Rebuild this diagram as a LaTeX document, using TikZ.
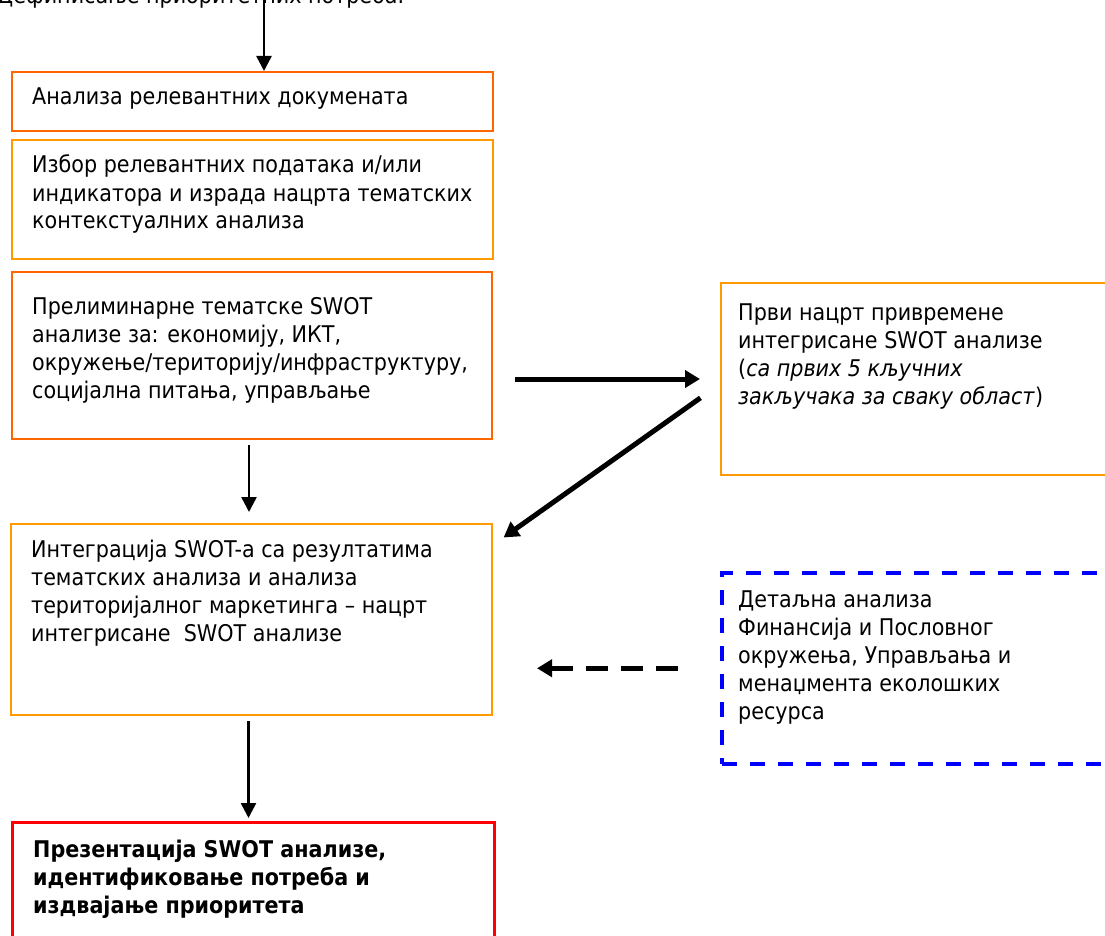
\documentclass[tikz,border=0pt]{standalone}
\usepackage{fontspec}
\setmainfont{DejaVu Sans Condensed}
\usetikzlibrary{arrows.meta}
\definecolor{orA}{RGB}{255,102,0}
\definecolor{orB}{RGB}{255,153,0}
\definecolor{redbox}{RGB}{255,0,0}
\definecolor{bluebox}{RGB}{0,0,255}
\begin{document}
\begin{tikzpicture}[x=1pt,y=-1pt,
		>={Triangle[length=15pt,width=15pt]},
		box/.style={draw,rectangle,inner sep=0pt,anchor=north west,line width=2pt},
		txt/.style={font=\fontsize{23}{28}\selectfont,align=left,inner sep=0pt,anchor=base west},
		flow/.style={line width=2.5pt,->},
		heavy/.style={line width=5pt,-{Triangle[length=15pt,width=17pt]}}]
	\useasboundingbox (0,0) rectangle (1105,936);
	\clip (0,0) rectangle (1105,936);
	% boxes
	\node[box,draw=orA,minimum width=481,minimum height=59] (docs) at (11,71) {};
	\node[box,draw=orB,minimum width=481,minimum height=119] (select) at (11,139) {};
	\node[box,draw=orA,minimum width=480,minimum height=167] (prelim) at (11,271) {};
	\node[box,draw=orB,minimum width=400,minimum height=192] (draft) at (720,282) {};
	\node[box,draw=orB,minimum width=481,minimum height=191] (integ) at (10,523) {};
	\node[box,draw=bluebox,line width=3.5pt,dash pattern=on 15pt off 13pt,minimum width=400,minimum height=191] (detail) at (720,571) {};
	\node[box,draw=redbox,line width=3pt,minimum width=482,minimum height=140] (pres) at (11,821) {};
	% texts (base = last line)
	\node[txt] (need) at (-3,4) {Дефинисање приоритетних потреба.};
	\node[txt] (docs-t) at (32,105) {Анализа релевантних докумената};
	\node[txt] (select-t) at (32,229) {Избор релевантних података и/или\\индикатора и израда нацрта тематских\\контекстуалних анализа};
	\node[txt] (prelim-t) at (32,398) {Прелиминарне тематске SWOT\\анализе за: економију, ИКТ,\\окружење/територију/инфраструктуру,\\социјална питања, управљање};
	\node[txt] (draft-t) at (738,404) {Први нацрт привремене\\интегрисане SWOT анализе\\(\textit{са првих 5 кључних}\\\textit{закључака за сваку област})};
	\node[txt] (integ-t) at (31,641) {Интеграција SWOT-а са резултатима\\тематских анализа и анализа\\територијалног маркетинга – нацрт\\интегрисане\ \ SWOT анализе};
	\node[txt] (detail-t) at (738,719) {Детаљна анализа\\Финансија и Пословног\\окружења, Управљања и\\менаџмента еколошких\\ресурса};
	\node[txt,font=\fontsize{23}{28}\selectfont\bfseries] (pres-t) at (33,913) {Презентација SWOT анализе,\\идентификовање потреба и\\издвајање приоритета};
	% connectors
	\coordinate (top) at (264,0);
	\draw[flow] (top) -- (top |- docs.north);
	\draw[flow,shorten <=5pt,shorten >=11pt] ([xshift=-3pt]prelim.south) -- ([xshift=-3pt]prelim.south |- integ.north);
	\draw[flow,shorten <=5pt,shorten >=3pt] ([xshift=-3pt]integ.south) -- ([xshift=-3pt]integ.south |- pres.north);
	\draw[heavy,shorten <=22pt,shorten >=20pt] (draft.west -| prelim.east) -- (draft.west);
	\draw[heavy,shorten <=24pt,shorten >=13pt] ([yshift=-5pt]draft.west) -- ([yshift=-22pt]integ.north east);
	\draw[heavy,dash pattern=on 22pt off 13pt,shorten <=42pt,shorten >=44pt] (detail.west) -- (detail.west -| integ.east);
\end{tikzpicture}
\end{document}
